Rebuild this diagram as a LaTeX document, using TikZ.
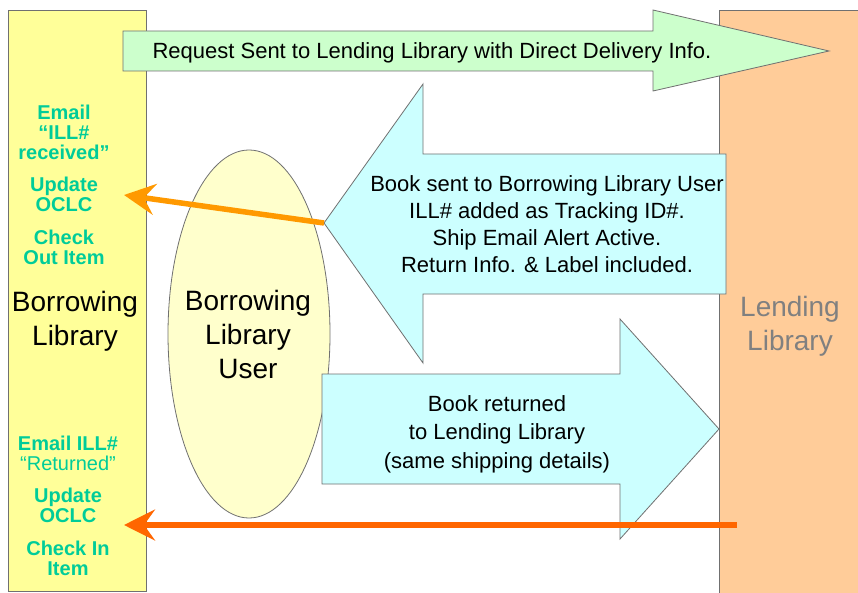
\documentclass[tikz,border=0pt]{standalone}
\usepackage{fontspec}
\setmainfont{Liberation Sans}
\usetikzlibrary{arrows.meta,shapes.geometric}
\definecolor{byellow}{HTML}{FFFF99}
\definecolor{lorange}{HTML}{FFCC99}
\definecolor{rgreen}{HTML}{CCFFCC}
\definecolor{acyan}{HTML}{CCFFFF}
\definecolor{uyellow}{HTML}{FFFFCC}
\definecolor{edgegray}{HTML}{707070}
\definecolor{teal2}{HTML}{00CC99}
\definecolor{arrowA}{HTML}{FF9900}
\definecolor{arrowB}{HTML}{FF6600}
\definecolor{lendgray}{HTML}{808080}
\begin{document}
\begin{tikzpicture}[x=1pt,y=-1pt,
  shapeline/.style={draw=edgegray,line width=0.8pt},
  bigtxt/.style={font=\fontsize{28}{34}\selectfont,align=center,inner sep=0pt},
  bodytxt/.style={font=\fontsize{22}{27}\selectfont,align=center,inner sep=0pt},
  tealtxt/.style={font=\fontsize{20}{20}\selectfont\bfseries,text=teal2,align=center,inner sep=0pt},
  flow/.style={line width=5.5pt,-{Stealth[length=31pt,width=31pt,inset=11pt]}}]
\useasboundingbox (0,0) rectangle (858,593);
\clip (0,0) rectangle (858,593);
\fill[white] (0,0) rectangle (858,593);
% side columns
\node[shapeline,fill=byellow,anchor=north west,minimum width=138pt,minimum height=581pt,inner sep=0pt] (borrow) at (8,10) {};
\node[shapeline,fill=lorange,anchor=north west,minimum width=160pt,minimum height=600pt,inner sep=0pt] (lend) at (719,10) {};
% request arrow
\draw[shapeline,fill=rgreen] (123,31) -- (653,31) -- (653,10) -- (829,51) -- (653,91) -- (653,71) -- (123,71) -- cycle;
\node[bodytxt] (req) at (432,53) {Request Sent to Lending Library with Direct Delivery Info.};
% user ellipse
\node[shapeline,fill=uyellow,ellipse,minimum width=162pt,minimum height=368pt,inner sep=0pt] (user) at (249,334) {};
\node[bigtxt] (usertxt) at (248,334) {Borrowing\\Library\\User};
% book sent arrow
\draw[shapeline,fill=acyan] (324,223) -- (423,84) -- (423,154) -- (726,154) -- (726,294) -- (423,294) -- (423,363) -- cycle;
\coordinate (senttip) at (324,223);
\node[bodytxt] (sent) at (547,224) {Book sent to Borrowing Library User\\ILL\# added as Tracking ID\#.\\Ship Email Alert Active.\\Return Info. \& Label included.};
% book returned arrow
\draw[shapeline,fill=acyan] (322,374) -- (620,374) -- (620,319) -- (719,429) -- (620,539) -- (620,484) -- (322,484) -- cycle;
\node[bodytxt,font=\fontsize{22}{28.5}\selectfont] (ret) at (497,434) {Book returned\\to Lending Library\\(same shipping details)};
% column labels
\node[bigtxt] (borrowtxt) at (75,321) {Borrowing\\Library};
\node[bigtxt,text=lendgray] (lendtxt) at (790,326) {Lending\\Library};
% teal actions
\node[tealtxt] (t1) at (64,132) {Email\\“ILL\#\\received”};
\node[tealtxt] (t2) at (64,194) {Update\\OCLC};
\node[tealtxt] (t3) at (64,247) {Check\\Out Item};
\node[tealtxt] (t4) at (68,453) {Email ILL\#\\{\mdseries “Returned”}};
\node[tealtxt] (t5) at (68,505) {Update\\OCLC};
\node[tealtxt] (t6) at (68,558) {Check In\\Item};
% flow arrows
\coordinate (tipA) at (124,195);
\coordinate (startB) at (737,525);
\coordinate (tipB) at (124,525);
\draw[flow,arrowA] (senttip) -- (tipA);
\draw[flow,arrowB] (startB) -- (tipB);
\end{tikzpicture}
\end{document}
